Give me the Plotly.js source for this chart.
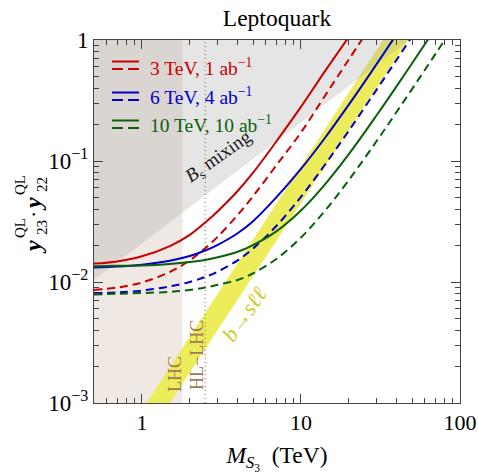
<!DOCTYPE html>
<html>
<head>
<meta charset="utf-8">
<script src="https://cdn.plot.ly/plotly-3.0.1.min.js"></script>
<style>
  html, body { margin: 0; padding: 0; background: #fff; }
  #chart { width: 478px; height: 475px; }
</style>
</head>
<body>
<div id="chart"></div>
<script>
// Projected reach on y23*y22 versus leptoquark mass M_S3 (TeV)
// solid: full reach, dashed: second scenario, per muon-collider option
const mass3Solid  = [0.5, 0.7, 1, 1.5, 2, 2.5, 3, 4, 5, 7, 10, 14, 20];
const coup3Solid  = [0.0142, 0.0148, 0.0163, 0.0198, 0.0245, 0.0310, 0.0385, 0.0565, 0.080, 0.145, 0.280, 0.540, 1.06];
const mass3Dash   = [0.5, 0.7, 1, 1.5, 2, 2.5, 3, 4, 5, 7, 10, 14, 20, 25];
const coup3Dash   = [0.0086, 0.0090, 0.0099, 0.0121, 0.0151, 0.0190, 0.0237, 0.0358, 0.0512, 0.0920, 0.172, 0.338, 0.690, 1.08];

const mass6Solid  = [0.5, 0.7, 1, 1.5, 2, 2.5, 3, 4, 5, 7, 10, 14, 20, 28, 40];
const coup6Solid  = [0.0132, 0.0134, 0.0139, 0.0150, 0.0164, 0.0182, 0.0203, 0.0253, 0.0318, 0.050, 0.086, 0.152, 0.292, 0.556, 1.12];
const mass6Dash   = [0.5, 0.7, 1, 1.5, 2, 2.5, 3, 4, 5, 7, 10, 14, 20, 30, 40, 52];
const coup6Dash   = [0.0081, 0.0082, 0.0085, 0.0092, 0.0100, 0.0110, 0.0122, 0.0151, 0.0189, 0.0290, 0.0505, 0.0913, 0.178, 0.391, 0.688, 1.16];

const mass10Solid = [0.5, 0.7, 1, 1.5, 2, 2.5, 3, 4, 5, 7, 10, 14, 20, 30, 40, 50, 66];
const coup10Solid = [0.0135, 0.0136, 0.0137, 0.0141, 0.0146, 0.0152, 0.0160, 0.0178, 0.0202, 0.0262, 0.0390, 0.0630, 0.114, 0.240, 0.416, 0.643, 1.11];
const mass10Dash  = [0.5, 0.7, 1, 1.5, 2, 2.5, 3, 4, 5, 7, 10, 14, 20, 30, 40, 55, 70, 85];
const coup10Dash  = [0.0079, 0.0080, 0.0081, 0.0083, 0.0086, 0.0090, 0.0095, 0.0104, 0.0118, 0.0155, 0.0233, 0.0381, 0.0696, 0.147, 0.255, 0.475, 0.764, 1.123];

// Excluded / preferred regions
const lhcMass   = [0.5, 1.8, 1.8, 0.5];
const lhcCoup   = [0.001, 0.001, 1, 1];
const bsMixMass = [0.5, 48, 0.5];
const bsMixCoup = [0.0104, 1, 1];
const bsllMass  = [1.07, 32.8, 47.1, 1.5];
const bsllCoup  = [0.001, 1, 1, 0.001];
const hlLhcMass = [2.5, 2.5];
const hlLhcCoup = [0.001, 1];

// Axis ticks
const xTickVals  = [1, 10, 100];
const xTickText  = ['1', '10', '100'];
const xMinorVals = [0.6, 0.7, 0.8, 0.9, 2, 3, 4, 5, 6, 7, 8, 9, 20, 30, 40, 50, 60, 70, 80, 90];
const yTickVals  = [0.001, 0.01, 0.1, 1];
const yTickText  = ['10<sup>−3</sup>', '10<sup>−2</sup>', '10<sup>−1</sup>', '1'];
const yMinorVals = [0.002, 0.003, 0.004, 0.005, 0.006, 0.007, 0.008, 0.009,
                    0.02, 0.03, 0.04, 0.05, 0.06, 0.07, 0.08, 0.09,
                    0.2, 0.3, 0.4, 0.5, 0.6, 0.7, 0.8, 0.9];

const legendLabels = ['3 TeV, 1 ab<sup>−1</sup>', '6 TeV, 4 ab<sup>−1</sup>', '10 TeV, 10 ab<sup>−1</sup>'];
const colliderColors = ['#c80000', '#0000c8', '#0a5f0a'];

const FONT = '"Liberation Serif", "Times New Roman", Times, serif';
const W = 478, H = 475;
const PL = 94, PR = 460, PT = 40, PB = 403;
const px = v => (v - PL) / (PR - PL);
const py = v => (PB - v) / (PB - PT);

function region(x, y, color) {
  return { x, y, type: 'scatter', mode: 'lines', fill: 'toself', fillcolor: color,
           line: { width: 0 }, hoverinfo: 'skip', showlegend: false };
}
function curve(x, y, color, dash) {
  return { x, y, type: 'scatter', mode: 'lines', showlegend: false,
           line: { color, width: 2, dash, shape: 'spline', smoothing: 1 } };
}

const traces = [
  region(lhcMass, lhcCoup, '#efe8e3'),
  region(bsllMass, bsllCoup, '#eded5c'),
  region(bsMixMass, bsMixCoup, 'rgba(171,171,171,0.31)'),
  { x: hlLhcMass, y: hlLhcCoup, type: 'scatter', mode: 'lines', showlegend: false,
    line: { color: '#9a6a44', width: 1, dash: '1px,3px' } },
  curve(mass3Solid, coup3Solid, colliderColors[0], 'solid'),
  curve(mass3Dash, coup3Dash, colliderColors[0], '8px,5px'),
  curve(mass6Solid, coup6Solid, colliderColors[1], 'solid'),
  curve(mass6Dash, coup6Dash, colliderColors[1], '8px,5px'),
  curve(mass10Solid, coup10Solid, colliderColors[2], 'solid'),
  curve(mass10Dash, coup10Dash, colliderColors[2], '8px,5px')
];

// Legend: solid key above dashed key, coloured label
const legendRows = [{ solid: 61.5, dash: 69, text: 67 },
                    { solid: 92.5, dash: 100, text: 96 },
                    { solid: 120.5, dash: 128, text: 124 }];
const shapes = [];
const annotations = [];
legendRows.forEach((row, i) => {
  shapes.push({ type: 'line', xref: 'paper', yref: 'paper', x0: px(112), x1: px(139),
                y0: py(row.solid), y1: py(row.solid), line: { color: colliderColors[i], width: 2 } });
  shapes.push({ type: 'line', xref: 'paper', yref: 'paper', x0: px(112), x1: px(139),
                y0: py(row.dash), y1: py(row.dash), line: { color: colliderColors[i], width: 2, dash: '11px,5px' } });
  annotations.push({ text: legendLabels[i], xref: 'paper', yref: 'paper', x: px(148), y: py(row.text),
                     xanchor: 'left', yanchor: 'middle', showarrow: false,
                     font: { family: FONT, size: 19.5, color: colliderColors[i] } });
});

function note(text, x, y, size, color, angle) {
  annotations.push({ text, xref: 'paper', yref: 'paper', x: px(x), y: py(y), xanchor: 'center', yanchor: 'middle',
                     showarrow: false, textangle: angle, font: { family: FONT, size, color } });
}
note('<i>B</i><sub>s</sub> mixing', 219, 157, 19, '#1a1a1a', -35);
note('<i>b</i>→<i>sℓℓ</i>', 244, 314, 22, '#cccc2a', -55);
note('LHC', 175, 374, 18, '#a07a58', -90);
note('HL−LHC', 197, 355, 18, '#a07a58', -90);

// y-axis title built from pieces so sub- and superscripts stack
note('<b><i>y</i></b>', 33, 247, 24, '#000', -90);
note('QL', 20, 228, 15, '#000', -90);
note('23', 42, 228, 15, '#000', -90);
note('·', 33, 215, 22, '#000', -90);
note('<b><i>y</i></b>', 33, 204, 24, '#000', -90);
note('QL', 20, 185, 15, '#000', -90);
note('22', 42, 185, 15, '#000', -90);

const layout = {
  width: W, height: H,
  margin: { l: PL, r: W - PR, t: PT, b: H - PB },
  paper_bgcolor: '#fff', plot_bgcolor: '#fff',
  font: { family: FONT, size: 22, color: '#000' },
  title: { text: 'Leptoquark', xref: 'paper', x: 0.5, xanchor: 'center',
           yref: 'container', y: 1 - 18 / H, yanchor: 'middle', font: { family: FONT, size: 23.5 } },
  xaxis: {
    type: 'log', range: [Math.log10(0.5), 2],
    tickmode: 'array', tickvals: xTickVals, ticktext: xTickText,
    ticks: 'inside', ticklen: 9, tickwidth: 1, tickcolor: '#444',
    minor: { tickmode: 'array', tickvals: xMinorVals, ticks: 'inside', ticklen: 5, tickcolor: '#444' },
    showline: true, linecolor: '#444', linewidth: 1, mirror: 'ticks',
    showgrid: false, zeroline: false,
    tickfont: { family: FONT, size: 22 },
    title: { text: '<i>M</i><sub><i>S</i><sub>3</sub></sub>  (TeV)', font: { family: FONT, size: 23.5 }, standoff: 12 }
  },
  yaxis: {
    type: 'log', range: [-3, 0],
    tickmode: 'array', tickvals: yTickVals, ticktext: yTickText,
    ticks: 'inside', ticklen: 9, tickwidth: 1, tickcolor: '#444',
    minor: { tickmode: 'array', tickvals: yMinorVals, ticks: 'inside', ticklen: 5, tickcolor: '#444' },
    showline: true, linecolor: '#444', linewidth: 1, mirror: 'ticks',
    showgrid: false, zeroline: false,
    tickfont: { family: FONT, size: 23 }
  },
  shapes, annotations,
  showlegend: false
};

Plotly.newPlot('chart', traces, layout, { staticPlot: true, displayModeBar: false });
</script>
</body>
</html>
